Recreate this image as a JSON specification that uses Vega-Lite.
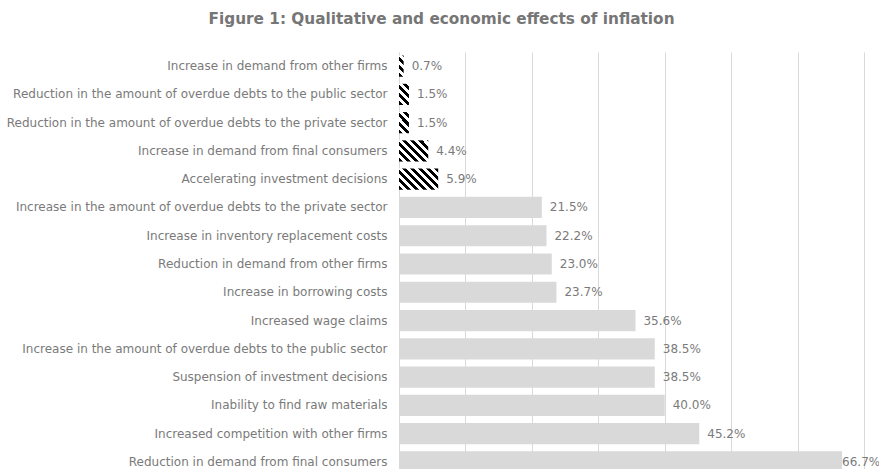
{
  "$schema": "https://vega.github.io/schema/vega-lite/v6.json",
  "autosize": "none",
  "width": 465,
  "height": 424,
  "padding": {"left": 399, "top": 52, "right": 15, "bottom": 0},
  "background": "white",
  "title": {
    "text": "Figure 1: Qualitative and economic effects of inflation",
    "font": "DejaVu Sans",
    "fontSize": 15.3,
    "fontWeight": "bold",
    "color": "#767676",
    "anchor": "middle",
    "dx": -190,
    "offset": 25
  },
  "config": {
    "view": {"stroke": null},
    "font": "DejaVu Sans"
  },
  "data": {
    "values": [
      {"effect": "Increase in demand from other firms", "pct": 0.007},
      {"effect": "Reduction in the amount of overdue debts to the public sector", "pct": 0.015},
      {"effect": "Reduction in the amount of overdue debts to the private sector", "pct": 0.015},
      {"effect": "Increase in demand from final consumers", "pct": 0.044},
      {"effect": "Accelerating investment decisions", "pct": 0.059},
      {"effect": "Increase in the amount of overdue debts to the private sector", "pct": 0.215},
      {"effect": "Increase in inventory replacement costs", "pct": 0.222},
      {"effect": "Reduction in demand from other firms", "pct": 0.230},
      {"effect": "Increase in borrowing costs", "pct": 0.237},
      {"effect": "Increased wage claims", "pct": 0.356},
      {"effect": "Increase in the amount of overdue debts to the public sector", "pct": 0.385},
      {"effect": "Suspension of investment decisions", "pct": 0.385},
      {"effect": "Inability to find raw materials", "pct": 0.400},
      {"effect": "Increased competition with other firms", "pct": 0.452},
      {"effect": "Reduction in demand from final consumers", "pct": 0.667}
    ]
  },
  "encoding": {
    "y": {
      "field": "effect",
      "type": "nominal",
      "sort": null,
      "scale": {"paddingInner": 0.25, "paddingOuter": 0.125},
      "axis": {
        "title": null,
        "ticks": false,
        "domainColor": "#d9d9d9",
        "domainWidth": 1,
        "labelColor": "#7a7a7a",
        "labelFont": "DejaVu Sans",
        "labelFontSize": 12,
        "labelPadding": 12,
        "labelLimit": 500
      }
    },
    "x": {
      "field": "pct",
      "type": "quantitative",
      "scale": {"domain": [0, 0.7], "nice": false},
      "axis": {
        "title": null,
        "labels": false,
        "ticks": false,
        "domain": false,
        "values": [0, 0.1, 0.2, 0.3, 0.4, 0.5, 0.6, 0.7],
        "gridColor": "#d9d9d9",
        "gridWidth": 1
      }
    }
  },
  "layer": [
    {
      "mark": {"type": "bar", "strokeWidth": 0},
      "encoding": {
        "fill": {
          "condition": [
            {"test": "datum.pct < 0.01", "value": {"gradient": "linear", "x1": 0, "y1": 1, "x2": 0.258, "y2": -0.164, "stops": [
              {"offset": 0, "color": "#000000"}, {"offset": 0.157, "color": "#000000"},
              {"offset": 0.157, "color": "#ffffff"}, {"offset": 0.3145, "color": "#ffffff"},
              {"offset": 0.3145, "color": "#000000"}, {"offset": 0.472, "color": "#000000"},
              {"offset": 0.472, "color": "#ffffff"}, {"offset": 0.629, "color": "#ffffff"},
              {"offset": 0.629, "color": "#000000"}, {"offset": 0.786, "color": "#000000"},
              {"offset": 0.786, "color": "#ffffff"}, {"offset": 0.943, "color": "#ffffff"},
              {"offset": 0.943, "color": "#000000"}, {"offset": 1, "color": "#000000"}
            ]}},
            {"test": "datum.pct < 0.02", "value": {"gradient": "linear", "x1": 0, "y1": 1, "x2": 0.571, "y2": -0.204, "stops": [
              {"offset": 0, "color": "#000000"}, {"offset": 0.130, "color": "#000000"},
              {"offset": 0.130, "color": "#ffffff"}, {"offset": 0.260, "color": "#ffffff"},
              {"offset": 0.260, "color": "#000000"}, {"offset": 0.391, "color": "#000000"},
              {"offset": 0.391, "color": "#ffffff"}, {"offset": 0.521, "color": "#ffffff"},
              {"offset": 0.521, "color": "#000000"}, {"offset": 0.651, "color": "#000000"},
              {"offset": 0.651, "color": "#ffffff"}, {"offset": 0.781, "color": "#ffffff"},
              {"offset": 0.781, "color": "#000000"}, {"offset": 0.911, "color": "#000000"},
              {"offset": 0.911, "color": "#ffffff"}, {"offset": 1, "color": "#ffffff"}
            ]}},
            {"test": "datum.pct < 0.05", "value": {"gradient": "linear", "x1": 0, "y1": 1, "x2": 1.133, "y2": 0.185, "stops": [
              {"offset": 0, "color": "#000000"}, {"offset": 0.080, "color": "#000000"},
              {"offset": 0.080, "color": "#ffffff"}, {"offset": 0.161, "color": "#ffffff"},
              {"offset": 0.161, "color": "#000000"}, {"offset": 0.241, "color": "#000000"},
              {"offset": 0.241, "color": "#ffffff"}, {"offset": 0.321, "color": "#ffffff"},
              {"offset": 0.321, "color": "#000000"}, {"offset": 0.401, "color": "#000000"},
              {"offset": 0.401, "color": "#ffffff"}, {"offset": 0.482, "color": "#ffffff"},
              {"offset": 0.482, "color": "#000000"}, {"offset": 0.562, "color": "#000000"},
              {"offset": 0.562, "color": "#ffffff"}, {"offset": 0.642, "color": "#ffffff"},
              {"offset": 0.642, "color": "#000000"}, {"offset": 0.722, "color": "#000000"},
              {"offset": 0.722, "color": "#ffffff"}, {"offset": 0.803, "color": "#ffffff"},
              {"offset": 0.803, "color": "#000000"}, {"offset": 0.883, "color": "#000000"},
              {"offset": 0.883, "color": "#ffffff"}, {"offset": 0.963, "color": "#ffffff"},
              {"offset": 0.963, "color": "#000000"}, {"offset": 1, "color": "#000000"}
            ]}},
            {"test": "datum.pct < 0.1", "value": {"gradient": "linear", "x1": 0, "y1": 1, "x2": 1.193, "y2": 0.361, "stops": [
              {"offset": 0, "color": "#000000"}, {"offset": 0.067, "color": "#000000"},
              {"offset": 0.067, "color": "#ffffff"}, {"offset": 0.134, "color": "#ffffff"},
              {"offset": 0.134, "color": "#000000"}, {"offset": 0.201, "color": "#000000"},
              {"offset": 0.201, "color": "#ffffff"}, {"offset": 0.268, "color": "#ffffff"},
              {"offset": 0.268, "color": "#000000"}, {"offset": 0.335, "color": "#000000"},
              {"offset": 0.335, "color": "#ffffff"}, {"offset": 0.402, "color": "#ffffff"},
              {"offset": 0.402, "color": "#000000"}, {"offset": 0.469, "color": "#000000"},
              {"offset": 0.469, "color": "#ffffff"}, {"offset": 0.535, "color": "#ffffff"},
              {"offset": 0.535, "color": "#000000"}, {"offset": 0.602, "color": "#000000"},
              {"offset": 0.602, "color": "#ffffff"}, {"offset": 0.669, "color": "#ffffff"},
              {"offset": 0.669, "color": "#000000"}, {"offset": 0.736, "color": "#000000"},
              {"offset": 0.736, "color": "#ffffff"}, {"offset": 0.803, "color": "#ffffff"},
              {"offset": 0.803, "color": "#000000"}, {"offset": 0.870, "color": "#000000"},
              {"offset": 0.870, "color": "#ffffff"}, {"offset": 0.937, "color": "#ffffff"},
              {"offset": 0.937, "color": "#000000"}, {"offset": 1, "color": "#000000"}
            ]}}
          ],
          "value": "#d9d9d9"
        }
      }
    },
    {
      "transform": [{"filter": "datum.pct < 0.6"}],
      "mark": {"type": "text", "align": "left", "baseline": "middle", "dx": 8, "font": "DejaVu Sans", "fontSize": 12, "color": "#7a7a7a"},
      "encoding": {
        "text": {"field": "pct", "type": "quantitative", "format": ".1%"}
      }
    },
    {
      "transform": [{"filter": "datum.pct >= 0.6"}],
      "mark": {"type": "text", "align": "left", "baseline": "middle", "dx": 0, "font": "DejaVu Sans", "fontSize": 12, "color": "#7a7a7a"},
      "encoding": {
        "text": {"field": "pct", "type": "quantitative", "format": ".1%"}
      }
    }
  ]
}
